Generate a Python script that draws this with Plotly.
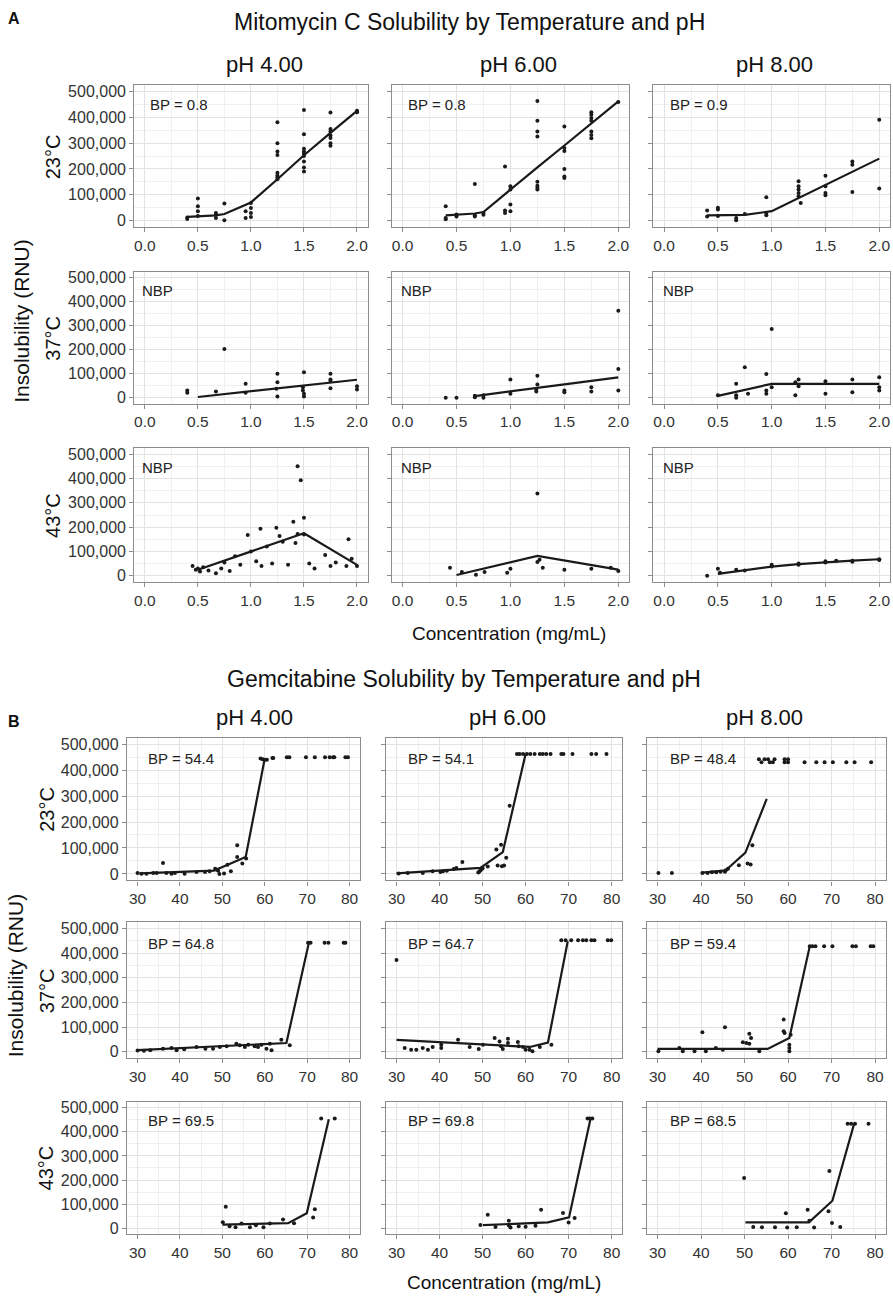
import plotly.graph_objects as go

W, H = 893, 1298

# ---------------- Mitomycin C (concentration mg/mL, insolubility in thousands RNU) ----------------
mmc_23_ph4_x = [0.4, 0.4, 0.5, 0.5, 0.5, 0.5, 0.67, 0.67, 0.67, 0.75, 0.75, 0.95, 0.95, 1.0, 1.0, 1.0, 1.0,
                1.25, 1.25, 1.25, 1.25, 1.25, 1.25, 1.25, 1.25, 1.5, 1.5, 1.5, 1.5, 1.5, 1.5, 1.5, 1.5, 1.5,
                1.75, 1.75, 1.75, 1.75, 1.75, 1.75, 1.75, 2.0, 2.0, 2.0]
mmc_23_ph4_y = [6, 12, 85, 55, 36, 17, 29, 10, 22, 66, 1, 36, 10, 68, 48, 29, 14,
                381, 300, 268, 254, 185, 175, 168, 160, 429, 335, 278, 268, 260, 229, 206, 190, 250,
                419, 355, 345, 320, 300, 290, 330, 426, 422, 420]
mmc_23_ph4_fit_x = [0.4, 0.5, 0.67, 0.75, 1.0, 1.25, 1.5, 1.75, 2.0]
mmc_23_ph4_fit_y = [14, 16, 20, 25, 70, 160, 253, 340, 425]

mmc_23_ph6_x = [0.4, 0.4, 0.4, 0.5, 0.5, 0.67, 0.67, 0.67, 0.75, 0.75, 0.95, 0.95, 0.95, 1.0, 1.0, 1.0, 1.0,
                1.25, 1.25, 1.25, 1.25, 1.25, 1.25, 1.25, 1.25, 1.5, 1.5, 1.5, 1.5, 1.5, 1.5,
                1.75, 1.75, 1.75, 1.75, 1.75, 1.75, 1.75, 2.0]
mmc_23_ph6_y = [55, 10, 5, 23, 15, 142, 20, 15, 29, 22, 209, 39, 29, 133, 120, 62, 36,
                464, 387, 345, 326, 150, 135, 127, 120, 365, 281, 270, 200, 171, 165,
                420, 410, 398, 387, 345, 332, 319, 460]
mmc_23_ph6_fit_x = [0.4, 0.5, 0.67, 0.75, 1.0, 1.25, 1.5, 1.75, 2.0]
mmc_23_ph6_fit_y = [20, 23, 27, 33, 121, 206, 291, 377, 462]

mmc_23_ph8_x = [0.4, 0.4, 0.5, 0.5, 0.5, 0.67, 0.67, 0.75, 0.95, 0.95, 0.95,
                1.25, 1.25, 1.25, 1.25, 1.25, 1.27, 1.5, 1.5, 1.5, 1.5, 1.75, 1.75, 1.75, 2.0, 2.0]
mmc_23_ph8_y = [39, 15, 49, 43, 17, 10, 1, 25, 90, 29, 20,
                152, 133, 120, 107, 94, 68, 174, 133, 107, 98, 229, 216, 111, 391, 124]
mmc_23_ph8_fit_x = [0.4, 0.5, 0.67, 0.75, 1.0, 1.25, 1.5, 1.75, 2.0]
mmc_23_ph8_fit_y = [20, 20, 20, 22, 36, 87, 138, 189, 240]

mmc_37_ph4_x = [0.4, 0.4, 0.67, 0.75, 0.95, 0.95, 1.25, 1.25, 1.24, 1.25, 1.5, 1.49, 1.49, 1.5, 1.5,
                1.75, 1.75, 1.75, 1.75, 2.0, 2.0]
mmc_37_ph4_y = [30, 21, 26, 203, 58, 21, 100, 65, 37, 5, 106, 44, 30, 17, 5,
                100, 76, 70, 40, 34, 48]
mmc_37_ph4_fit_x = [0.5, 0.67, 0.75, 1.0, 1.25, 1.5, 1.75, 2.0]
mmc_37_ph4_fit_y = [3, 11, 15, 27, 39, 51, 63, 75]

mmc_37_ph6_x = [0.4, 0.5, 0.67, 0.67, 0.75, 0.75, 1.0, 1.0, 1.25, 1.25, 1.24, 1.24, 1.5, 1.5,
                1.75, 1.75, 2.0, 2.0, 2.0]
mmc_37_ph6_y = [0, 0, 8, 2, 10, 0, 76, 17, 92, 55, 34, 26, 30, 23, 44, 26, 362, 120, 30]
mmc_37_ph6_fit_x = [0.67, 0.75, 1.0, 1.25, 1.5, 1.75, 2.0]
mmc_37_ph6_fit_y = [7, 12, 26, 41, 56, 70, 85]

mmc_37_ph8_x = [0.5, 0.67, 0.67, 0.67, 0.75, 0.78, 0.95, 0.95, 0.95, 1.0, 1.0,
                1.25, 1.22, 1.25, 1.22, 1.5, 1.5, 1.75, 1.75, 2.0, 2.0, 2.0]
mmc_37_ph8_y = [10, 58, 10, 0, 127, 17, 99, 30, 17, 286, 44,
                76, 65, 48, 10, 69, 17, 76, 23, 85, 44, 30]
mmc_37_ph8_fit_x = [0.5, 0.67, 0.75, 1.0, 1.25, 1.5, 1.75, 2.0]
mmc_37_ph8_fit_y = [8, 25, 33, 58, 58, 58, 58, 58]

mmc_43_ph4_x = [0.45, 0.48, 0.5, 0.52, 0.55, 0.6, 0.67, 0.72, 0.75, 0.8, 0.85, 0.9, 0.97, 1.0, 1.05,
                1.09, 1.1, 1.15, 1.2, 1.24, 1.27, 1.3, 1.35, 1.4, 1.42, 1.44, 1.44, 1.47, 1.5, 1.5,
                1.55, 1.6, 1.7, 1.75, 1.8, 1.9, 1.92, 1.95, 2.0]
mmc_43_ph4_y = [40, 25, 30, 18, 35, 22, 10, 30, 55, 20, 80, 45, 168, 100, 60,
                193, 40, 120, 50, 198, 164, 140, 45, 222, 135, 451, 172, 393, 239, 170,
                50, 30, 85, 40, 55, 40, 150, 70, 40]
mmc_43_ph4_fit_x = [0.5, 1.0, 1.5, 2.0]
mmc_43_ph4_fit_y = [25, 100, 175, 45]

mmc_43_ph6_x = [0.44, 0.55, 0.68, 0.76, 0.97, 1.0, 1.25, 1.25, 1.27, 1.3, 1.5, 1.75, 1.93, 2.0]
mmc_43_ph6_y = [33, 16, 4, 16, 12, 29, 339, 57, 66, 33, 25, 29, 33, 20]
mmc_43_ph6_fit_x = [0.5, 1.25, 2.0]
mmc_43_ph6_fit_y = [3, 82, 25]

mmc_43_ph8_x = [0.4, 0.5, 0.52, 0.67, 0.75, 1.0, 1.0, 1.25, 1.25, 1.5, 1.5, 1.6, 1.75, 1.75, 2.0, 2.0]
mmc_43_ph8_y = [0, 29, 12, 25, 22, 45, 38, 50, 45, 60, 55, 62, 62, 58, 65, 68]
mmc_43_ph8_fit_x = [0.5, 0.67, 0.75, 1.0, 1.25, 1.5, 1.75, 2.0]
mmc_43_ph8_fit_y = [8, 18, 24, 38, 48, 56, 62, 68]

# ---------------- Gemcitabine ----------------
gem_23_ph4_x = [30.0, 30.9, 32.1, 33.7, 34.5, 36.0, 36.8, 38.0, 38.8, 41.1, 43.9, 45.9, 47.0, 48.3, 48.7,
                49.0, 49.3, 50.4, 51.2, 52.0, 53.5, 53.5, 54.7, 55.6,
                59.0, 59.5, 60.0, 60.5, 61.8, 62.0, 65.2, 65.8, 69.7, 71.8, 74.2, 75.3, 76.1, 76.4, 79.0, 79.6]
gem_23_ph4_y = [4, 1, 1, 4, 4, 42, 4, 1, 4, 1, 7, 7, 10, 20, 16,
                12, 0, 2, 35, 10, 110, 65, 40, 59,
                445, 442, 440, 440, 447, 447, 450, 450, 450, 450, 450, 450, 450, 450, 450, 450]
gem_23_ph4_fit_x = [30.5, 48.0, 51.0, 53.3, 55.5, 60.0]
gem_23_ph4_fit_y = [2, 13, 33, 48, 65, 445]

gem_23_ph6_x = [30.5, 32.6, 36.1, 38.4, 40.2, 40.8, 41.7, 43.3, 43.9, 45.3, 49.0, 49.2, 49.5, 49.8, 50.0,
                51.2, 53.2, 53.5, 54.3, 54.5, 55.0, 55.5, 56.3,
                58.0, 58.6, 59.4, 60.3, 61.1, 62.1, 63.3, 64.0, 64.8, 65.8, 68.3, 68.8, 70.9, 75.3, 76.4, 78.8]
gem_23_ph6_y = [2, 4, 4, 10, 7, 10, 12, 19, 23, 46, 5, 8, 13, 19, 22,
                29, 94, 32, 112, 30, 32, 62, 263,
                462, 462, 462, 462, 462, 462, 462, 462, 462, 462, 462, 462, 462, 462, 462, 462]
gem_23_ph6_fit_x = [30.0, 49.5, 54.7, 60.0]
gem_23_ph6_fit_y = [2, 23, 84, 462]

gem_23_ph8_x = [30.2, 33.3, 40.3, 41.5, 42.5, 43.5, 44.5, 45.5, 45.7, 46.2, 48.7, 50.7, 51.4, 51.8,
                53.3, 53.9, 54.6, 55.4, 55.8, 56.5, 56.9, 59.2, 59.2, 60.0, 60.0, 63.8, 66.5, 68.4,
                70.3, 73.4, 75.3, 79.1]
gem_23_ph8_y = [4, 4, 4, 4, 6, 6, 8, 8, 14, 20, 33, 40, 36, 110,
                442, 430, 442, 442, 430, 430, 442, 442, 430, 442, 430, 430, 430, 430,
                430, 430, 430, 430]
gem_23_ph8_fit_x = [40.3, 45.7, 50.2, 55.1]
gem_23_ph8_fit_y = [5, 14, 82, 289]

gem_37_ph4_x = [30.0, 31.5, 33.0, 36.0, 38.0, 39.2, 41.0, 43.9, 46.0, 47.8, 49.4, 51.0, 53.3, 54.1, 55.3,
                56.1, 57.6, 58.4, 59.2, 60.4, 61.2, 61.6, 63.9, 65.9,
                70.2, 70.8, 74.1, 75.0, 78.6, 79.0]
gem_37_ph4_y = [5, 4, 6, 12, 15, 6, 10, 19, 12, 12, 19, 22, 32, 26, 19,
                28, 22, 19, 28, 12, 32, 6, 48, 26,
                442, 442, 442, 442, 442, 442]
gem_37_ph4_fit_x = [30.0, 65.1, 70.4]
gem_37_ph4_fit_y = [6, 35, 442]

gem_37_ph6_x = [30.0, 31.9, 33.4, 34.6, 36.1, 37.3, 38.4, 40.4, 40.4, 44.3, 47.0, 49.1, 50.1, 52.8, 53.95,
                54.3, 55.9, 55.9, 54.7, 58.2, 58.4, 59.4, 60.0, 60.9, 61.6, 63.3, 66.0,
                68.3, 69.3, 70.6, 72.2, 73.3, 74.1, 75.3, 76.0, 79.1, 79.9]
gem_37_ph6_y = [372, 15, 8, 8, 15, 8, 19, 15, 28, 48, 19, 11, 28, 55, 41,
                22, 52, 35, 11, 39, 22, 19, 8, 8, 2, 19, 28,
                452, 452, 452, 452, 452, 452, 452, 452, 452, 452]
gem_37_ph6_fit_x = [30.0, 61.0, 65.2, 69.8]
gem_37_ph6_fit_y = [48, 19, 37, 448]

gem_37_ph8_x = [30.2, 35.0, 35.8, 38.5, 40.3, 41.1, 43.4, 45.0, 45.5, 49.6, 50.4, 51.1, 51.1, 51.5, 53.4,
                59.0, 59.0, 59.2, 60.6, 60.3, 60.3, 60.3,
                65.0, 65.6, 66.3, 68.3, 70.2, 74.8, 75.6, 79.0, 79.6]
gem_37_ph8_y = [2, 15, 2, 2, 79, 2, 15, 8, 99, 38, 35, 32, 73, 55, 2,
                130, 83, 76, 69, 28, 15, 2,
                428, 428, 428, 428, 428, 428, 428, 428, 428]
gem_37_ph8_fit_x = [30.0, 55.3, 60.3, 65.0]
gem_37_ph8_fit_y = [11, 11, 55, 428]

gem_43_ph4_x = [50.1, 50.8, 51.7, 53.1, 54.5, 56.5, 57.9, 59.7, 61.2, 64.3, 66.9, 71.4, 71.8, 73.3, 76.5]
gem_43_ph4_y = [25, 89, 8, 4, 20, 4, 12, 4, 20, 36, 21, 45, 79, 455, 455]
gem_43_ph4_fit_x = [50.0, 65.5, 69.9, 75.1]
gem_43_ph4_fit_y = [15, 21, 62, 452]

gem_43_ph6_x = [49.5, 51.2, 53.0, 56.1, 56.1, 56.5, 58.4, 60.0, 62.3, 63.6, 68.7, 70.0, 71.4, 74.4, 74.9, 75.5]
gem_43_ph6_y = [13, 56, 5, 31, 11, 3, 8, 6, 10, 77, 63, 24, 42, 455, 455, 455]
gem_43_ph6_fit_x = [50.1, 65.2, 70.1, 75.1]
gem_43_ph6_fit_y = [13, 24, 45, 455]

gem_43_ph8_x = [49.9, 52.0, 54.0, 57.0, 59.5, 59.8, 62.0, 64.5, 64.9, 66.0, 69.3, 69.5, 70.1, 72.0,
                73.7, 74.5, 75.4, 78.5]
gem_43_ph8_y = [208, 5, 4, 4, 62, 3, 4, 77, 31, 3, 70, 238, 22, 5,
                434, 434, 434, 434]
gem_43_ph8_fit_x = [50.2, 64.8, 70.2, 75.2]
gem_43_ph8_fit_y = [24, 24, 114, 434]

# labels
ph_labels = ["pH 4.00", "pH 6.00", "pH 8.00"]
temp_labels = ["23°C", "37°C", "43°C"]
mmc_bp = [["BP = 0.8", "BP = 0.8", "BP = 0.9"], ["NBP", "NBP", "NBP"], ["NBP", "NBP", "NBP"]]
gem_bp = [["BP = 54.4", "BP = 54.1", "BP = 48.4"], ["BP = 64.8", "BP = 64.7", "BP = 59.4"],
          ["BP = 69.5", "BP = 69.8", "BP = 68.5"]]
y_ticks = [0, 100000, 200000, 300000, 400000, 500000]
mmc_x_ticks = [0.0, 0.5, 1.0, 1.5, 2.0]
gem_x_ticks = [30, 40, 50, 60, 70, 80]

mmc_data = [
    [(mmc_23_ph4_x, mmc_23_ph4_y, mmc_23_ph4_fit_x, mmc_23_ph4_fit_y),
     (mmc_23_ph6_x, mmc_23_ph6_y, mmc_23_ph6_fit_x, mmc_23_ph6_fit_y),
     (mmc_23_ph8_x, mmc_23_ph8_y, mmc_23_ph8_fit_x, mmc_23_ph8_fit_y)],
    [(mmc_37_ph4_x, mmc_37_ph4_y, mmc_37_ph4_fit_x, mmc_37_ph4_fit_y),
     (mmc_37_ph6_x, mmc_37_ph6_y, mmc_37_ph6_fit_x, mmc_37_ph6_fit_y),
     (mmc_37_ph8_x, mmc_37_ph8_y, mmc_37_ph8_fit_x, mmc_37_ph8_fit_y)],
    [(mmc_43_ph4_x, mmc_43_ph4_y, mmc_43_ph4_fit_x, mmc_43_ph4_fit_y),
     (mmc_43_ph6_x, mmc_43_ph6_y, mmc_43_ph6_fit_x, mmc_43_ph6_fit_y),
     (mmc_43_ph8_x, mmc_43_ph8_y, mmc_43_ph8_fit_x, mmc_43_ph8_fit_y)],
]
gem_data = [
    [(gem_23_ph4_x, gem_23_ph4_y, gem_23_ph4_fit_x, gem_23_ph4_fit_y),
     (gem_23_ph6_x, gem_23_ph6_y, gem_23_ph6_fit_x, gem_23_ph6_fit_y),
     (gem_23_ph8_x, gem_23_ph8_y, gem_23_ph8_fit_x, gem_23_ph8_fit_y)],
    [(gem_37_ph4_x, gem_37_ph4_y, gem_37_ph4_fit_x, gem_37_ph4_fit_y),
     (gem_37_ph6_x, gem_37_ph6_y, gem_37_ph6_fit_x, gem_37_ph6_fit_y),
     (gem_37_ph8_x, gem_37_ph8_y, gem_37_ph8_fit_x, gem_37_ph8_fit_y)],
    [(gem_43_ph4_x, gem_43_ph4_y, gem_43_ph4_fit_x, gem_43_ph4_fit_y),
     (gem_43_ph6_x, gem_43_ph6_y, gem_43_ph6_fit_x, gem_43_ph6_fit_y),
     (gem_43_ph8_x, gem_43_ph8_y, gem_43_ph8_fit_x, gem_43_ph8_fit_y)],
]

# ---------------- layout geometry (pixels) ----------------
mmc_cols = [(134.4, 368.0), (392.2, 629.8), (654.1, 891.0)]
mmc_rows = [(83.5, 225.8), (270.7, 403.3), (447.9, 582.1)]
gem_cols = [(127.1, 360.6), (386.2, 623.1), (647.4, 886.9)]
gem_rows = [(738.5, 881.8), (923.8, 1059.9), (1104.0, 1237.0)]
mmc_bp_pos = [[(148, 103), (406, 103), (669, 103)],
              [(140, 290), (399, 290), (662, 290)],
              [(140, 467), (399, 467), (662, 467)]]
gem_bp_pos = [[(146, 759), (406, 759), (669, 759)],
              [(146, 945), (406, 945), (669, 945)],
              [(146, 1123), (406, 1123), (669, 1123)]]

FONT = "Liberation Sans"
INK = "#1a1a1a"
BORDER = "#8c8c8c"
GRID = "#e3e3e3"
MINOR = "#f0f0f0"
TICKTXT = "#333333"

fig = go.Figure()
layout = {}
annotations = []


def px(x):
    return x / W


def py(y):
    return 1 - y / H


k = 0
for fig_id, (data, cols, rows, xr, xt, xminor, xfmt, bps, bpos) in enumerate([
        (mmc_data, mmc_cols, mmc_rows, [-0.1, 2.1], mmc_x_ticks, 0.25, ".1f", mmc_bp, mmc_bp_pos),
        (gem_data, gem_cols, gem_rows, [27.5, 82.5], gem_x_ticks, 5, "d", gem_bp, gem_bp_pos)]):
    for r in range(3):
        for c in range(3):
            k += 1
            xs, ys, fx, fy = data[r][c]
            xa = "x" if k == 1 else f"x{k}"
            ya = "y" if k == 1 else f"y{k}"
            fig.add_trace(go.Scatter(x=xs, y=[v * 1000 for v in ys], mode="markers",
                                     marker=dict(size=4, color=INK), xaxis=xa, yaxis=ya,
                                     showlegend=False, hoverinfo="skip"))
            fig.add_trace(go.Scatter(x=fx, y=[v * 1000 for v in fy], mode="lines",
                                     line=dict(color=INK, width=2.2), xaxis=xa, yaxis=ya,
                                     showlegend=False, hoverinfo="skip"))
            l, rr = cols[c]
            t, b = rows[r]
            xkey = "xaxis" if k == 1 else f"xaxis{k}"
            ykey = "yaxis" if k == 1 else f"yaxis{k}"
            common = dict(showline=True, mirror=True, linecolor=BORDER, linewidth=1.2,
                          ticks="outside", ticklen=4, tickcolor=BORDER, tickwidth=1,
                          showgrid=True, gridcolor=GRID, gridwidth=1.2, zeroline=False,
                          fixedrange=True)
            layout[xkey] = dict(domain=[px(l), px(rr)], anchor=ya, range=xr, tickvals=xt,
                                tickformat=xfmt,
                                tickfont=dict(family=FONT, size=15.5, color=TICKTXT),
                                minor=dict(dtick=xminor, tick0=xt[0], showgrid=True,
                                           gridcolor=MINOR, gridwidth=0.7),
                                **common)
            layout[ykey] = dict(domain=[py(b), py(t)], anchor=xa, range=[-25000, 525000],
                                tickvals=y_ticks, tickformat=",d", showticklabels=(c == 0),
                                tickfont=dict(family=FONT, size=16, color=TICKTXT),
                                minor=dict(dtick=50000, tick0=0, showgrid=True,
                                           gridcolor=MINOR, gridwidth=0.7),
                                **common)
            bx, by = bpos[r][c]
            annotations.append(dict(text=bps[r][c], x=px(bx), y=py(by), xref="paper", yref="paper",
                                    xanchor="left", yanchor="middle", showarrow=False,
                                    font=dict(family=FONT, size=15, color="#222222")))


def add_text(text, x, y, size, angle=0, bold=False, color="#111111"):
    annotations.append(dict(text=f"<b>{text}</b>" if bold else text, x=px(x), y=py(y),
                            xref="paper", yref="paper", xanchor="center", yanchor="middle",
                            showarrow=False, textangle=angle,
                            font=dict(family=FONT, size=size, color=color)))


# Figure A texts
add_text("A", 14, 17, 16, bold=True)
add_text("Mitomycin C Solubility by Temperature and pH", 470, 20, 23)
for name, xx in zip(ph_labels, [265, 519, 775]):
    add_text(name, xx, 63, 22)
for name, yy in zip(temp_labels, [155, 337, 515]):
    add_text(name, 53, yy, 20, angle=-90)
add_text("Insolubility (RNU)", 22, 320, 21, angle=-90)
add_text("Concentration (mg/mL)", 510, 634, 19)

# Figure B texts
add_text("B", 14, 722, 16, bold=True)
add_text("Gemcitabine Solubility by Temperature and pH", 465, 680, 23)
for name, xx in zip(ph_labels, [255, 508, 765]):
    add_text(name, xx, 718, 22)
for name, yy in zip(temp_labels, [810, 992, 1170]):
    add_text(name, 47, yy, 20, angle=-90)
add_text("Insolubility (RNU)", 15, 977, 21, angle=-90)
add_text("Concentration (mg/mL)", 505, 1285, 19)

fig.update_layout(width=W, height=H, margin=dict(l=0, r=0, t=0, b=0),
                  paper_bgcolor="white", plot_bgcolor="white",
                  font=dict(family=FONT), annotations=annotations, **layout)

fig.write_html("out.html", config={"displayModeBar": False},
               post_script="document.body.style.margin='0';document.body.style.overflow='hidden';")
